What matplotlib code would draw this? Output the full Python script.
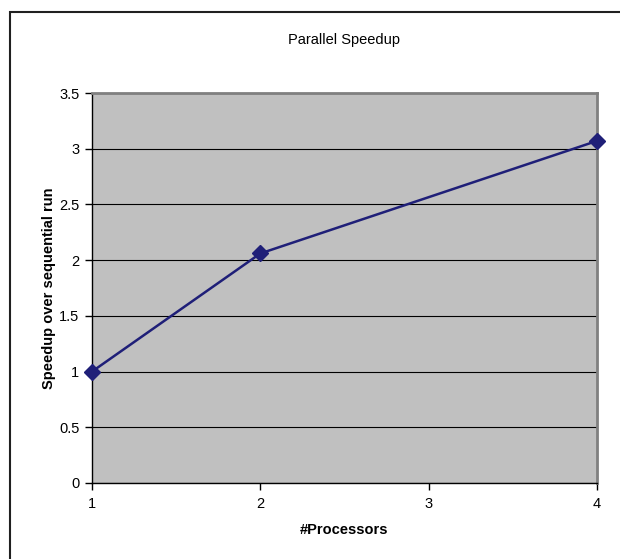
import matplotlib
matplotlib.use("Agg")
import matplotlib.pyplot as plt
from matplotlib.patches import Rectangle

plt.rcParams['font.family'] = ['Liberation Sans', 'DejaVu Sans']

# speedup measurements
processors = [1, 2, 4]
speedup = [1.0, 2.06, 3.07]
x_ticks = [1, 2, 3, 4]
y_ticks = [0, 0.5, 1, 1.5, 2, 2.5, 3, 3.5]

fig = plt.figure(figsize=(6.2, 5.59), dpi=100)
ax = fig.add_axes([92 / 620, 1 - 483 / 559, (597 - 92) / 620, (483 - 93) / 559])

# frame around the whole chart (open on right and bottom)
fig.patches.append(Rectangle((10 / 620, -0.05), 1.1, 1 - 12 / 559 + 0.05,
                             transform=fig.transFigure, fill=False,
                             edgecolor='#202020', linewidth=1.5, zorder=0))

ax.set_facecolor('#C0C0C0')
ax.plot(processors, speedup, color='#1F1F78', linewidth=1.8,
        marker='D', markersize=8.5, markerfacecolor='#1F1F78',
        markeredgecolor='#1F1F78', clip_on=False, zorder=5)

ax.set_xlim(1, 4)
ax.set_ylim(0, 3.5)
ax.set_xticks(x_ticks)
ax.set_yticks(y_ticks)
ax.set_yticklabels([f'{v:g}' for v in y_ticks])
ax.grid(axis='y', color='black', linewidth=0.8)
ax.set_axisbelow(True)

for side in ('top', 'right'):
    ax.spines[side].set_color('#808080')
    ax.spines[side].set_linewidth(2)
for side in ('left', 'bottom'):
    ax.spines[side].set_color('black')
    ax.spines[side].set_linewidth(1)

ax.tick_params(axis='both', direction='out', length=5, width=1,
               labelsize=10.5, colors='black', pad=4)
ax.tick_params(axis='x', pad=5)

ax.set_title('Parallel Speedup', fontsize=10.5, pad=35)
ax.set_xlabel('#Processors', fontsize=10.5, fontweight='bold', labelpad=9)
ax.set_ylabel('Speedup over sequential run', fontsize=10.5, fontweight='bold', labelpad=2)

fig.savefig('out.png', dpi=100)
